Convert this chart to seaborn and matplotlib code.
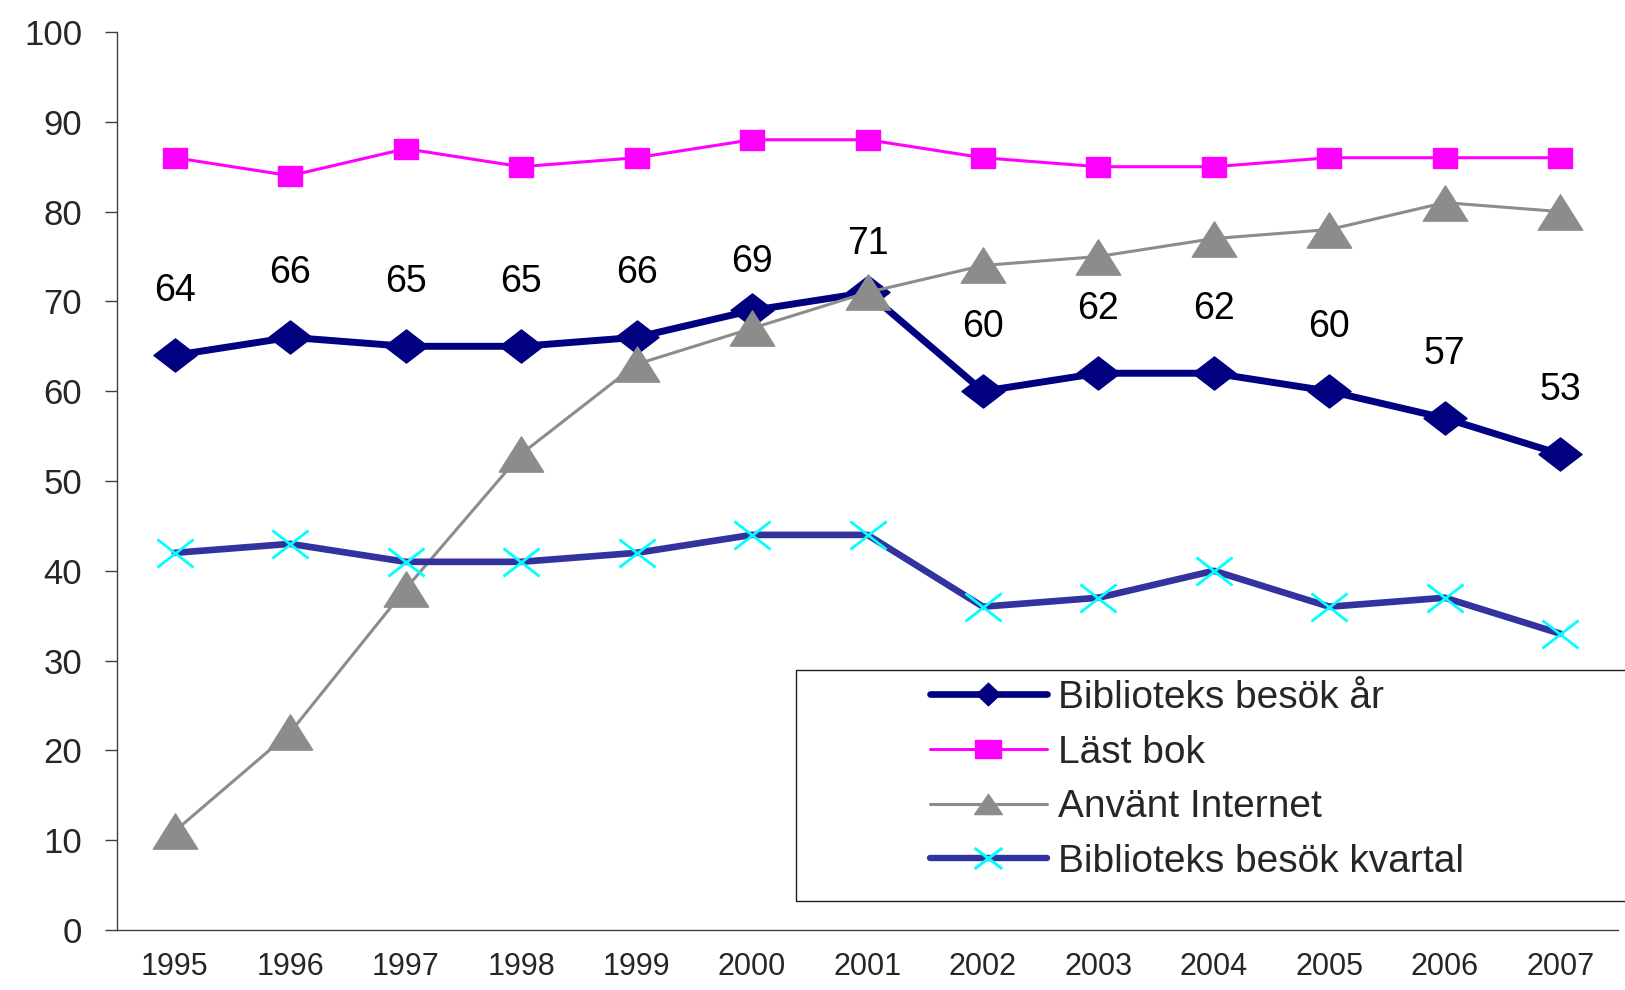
import numpy as np
import pandas as pd
import matplotlib
matplotlib.use("Agg")
import matplotlib.pyplot as plt
import seaborn as sns
from matplotlib.path import Path
from matplotlib.lines import Line2D
from matplotlib.patches import Rectangle

# Data
years = [1995, 1996, 1997, 1998, 1999, 2000, 2001, 2002, 2003, 2004, 2005, 2006, 2007]
besok_ar = [64, 66, 65, 65, 66, 69, 71, 60, 62, 62, 60, 57, 53]
last_bok = [86, 84, 87, 85, 86, 88, 88, 86, 85, 85, 86, 86, 86]
internet = [11, 22, 38, 53, 63, 67, 71, 74, 75, 77, 78, 81, 80]
besok_kvartal = [42, 43, 41, 41, 42, 44, 44, 36, 37, 40, 36, 37, 33]
series_names = ["Biblioteks besök år", "Läst bok", "Använt Internet", "Biblioteks besök kvartal"]
y_ticks = list(range(0, 101, 10))

sns.set_style("white")
plt.rcParams['font.family'] = ['Liberation Sans', 'DejaVu Sans']

# Custom (slightly wide) marker shapes
diamond = Path([(-1.3, 0), (0, 1), (1.3, 0), (0, -1), (-1.3, 0)], closed=True)
square = Path([(-1.2, -1), (1.2, -1), (1.2, 1), (-1.2, 1), (-1.2, -1)], closed=True)
triangle = Path([(-1.26, -1), (1.26, -1), (0, 1), (-1.26, -1)], closed=True)
cross = Path([(-1.29, -1), (1.29, 1), (-1.29, 1), (1.29, -1)],
             [Path.MOVETO, Path.LINETO, Path.MOVETO, Path.LINETO])
# legend shapes
diamond_l = Path([(-1.05, 0), (0, 1), (1.05, 0), (0, -1), (-1.05, 0)], closed=True)
square_l = Path([(-1.35, -1), (1.35, -1), (1.35, 1), (-1.35, 1), (-1.35, -1)], closed=True)
triangle_l = Path([(-1.38, -1), (1.38, -1), (0, 1), (-1.38, -1)], closed=True)
cross_l = Path([(-1.33, -1), (1.33, 1), (-1.33, 1), (1.33, -1)],
               [Path.MOVETO, Path.LINETO, Path.MOVETO, Path.LINETO])

C_AR, C_BOK, C_NET, C_KV = "#000080", "#FF00FF", "#8C8C8C", "#3333A0"

df = pd.DataFrame({"x": np.arange(len(years)), "ar": besok_ar, "bok": last_bok,
                   "net": internet, "kv": besok_kvartal})

fig = plt.figure(figsize=(16.25, 9.9), dpi=100)
ax = fig.add_axes([117 / 1625, 1 - 930 / 990, (1618 - 117) / 1625, (930 - 32) / 990])

styles = [
    dict(col="ar", color=C_AR, lw=5.0, marker=diamond, ms=31, mfc=C_AR, mec=C_AR, mew=1),
    dict(col="bok", color=C_BOK, lw=2.2, marker=square, ms=17, mfc=C_BOK, mec=C_BOK, mew=1),
    dict(col="net", color=C_NET, lw=2.2, marker=triangle, ms=32, mfc=C_NET, mec=C_NET, mew=1),
    dict(col="kv", color=C_KV, lw=4.8, marker=cross, ms=26, mfc="none", mec="#00FFFF", mew=2),
]
for st in styles:
    sns.lineplot(data=df, x="x", y=st["col"], ax=ax, color=st["color"], linewidth=st["lw"],
                 marker=st["marker"], markersize=st["ms"], markerfacecolor=st["mfc"],
                 markeredgecolor=st["mec"], markeredgewidth=st["mew"], legend=False)

# Data labels for Biblioteks besök år
for i, v in enumerate(besok_ar):
    off = 48 if years[i] in (2000, 2001) else 64
    ax.annotate(str(v), (i, v), xytext=(0, off * 0.72), textcoords="offset points",
                ha="center", va="center", fontsize=27, color="black")

ax.set_xlim(-0.5, len(years) - 0.5)
ax.set_ylim(0, 100)
ax.set_yticks(y_ticks)
ax.set_yticklabels([str(t) for t in y_ticks], fontsize=25)
ax.set_xticks(np.arange(len(years)))
ax.set_xticklabels([str(y) for y in years], fontsize=22)
ax.set_xticks(np.arange(-0.5, len(years)), minor=True)
ax.tick_params(axis="x", which="major", length=0, pad=16)
ax.tick_params(axis="x", which="minor", length=7, width=1, color="#404040", direction="out")
ax.tick_params(axis="y", length=9, width=1, color="#404040", direction="out", pad=16, left=True)
ax.set_xlabel("")
ax.set_ylabel("")
for s in ["top", "right"]:
    ax.spines[s].set_visible(False)
for s in ["left", "bottom"]:
    ax.spines[s].set_color("#404040")
    ax.spines[s].set_linewidth(1)

# Legend
handles = [
    Line2D([], [], color=C_AR, lw=4.8, marker=diamond_l, ms=17, mfc=C_AR, mec=C_AR),
    Line2D([], [], color=C_BOK, lw=2.2, marker=square_l, ms=18, mfc=C_BOK, mec=C_BOK),
    Line2D([], [], color="#8C8C8C", lw=2.2, marker=triangle_l, ms=20, mfc=C_NET, mec=C_NET),
    Line2D([], [], color=C_KV, lw=4.6, marker=cross_l, ms=20, mfc="none", mec="#00FFFF", mew=2.2),
]
fig.patches.append(Rectangle((796 / 1625, 1 - 901 / 990), 840 / 1625, 231 / 990,
                             transform=fig.transFigure, fill=False, edgecolor="#202020", lw=1))
fig.legend(handles, series_names, loc="upper left", bbox_to_anchor=(930 / 1625, 1 - 680 / 990),
           frameon=False, fontsize=28, handlelength=3.0, handletextpad=0.28,
           labelspacing=0.48, borderpad=0, borderaxespad=0)

fig.savefig("out.png", dpi=100)
